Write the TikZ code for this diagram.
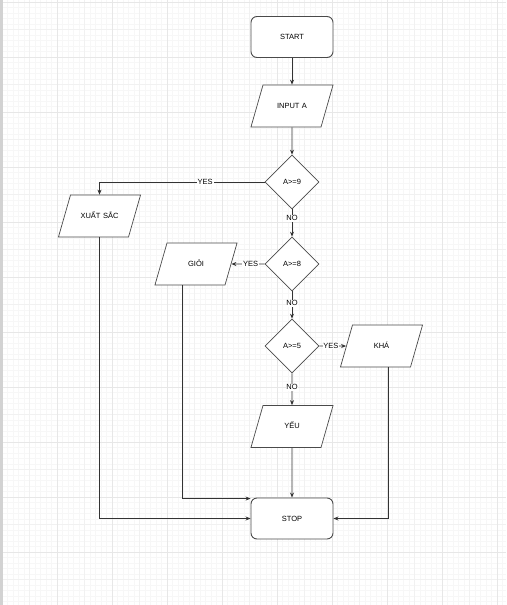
\documentclass[tikz,border=0pt]{standalone}
\usepackage{fontspec}
\setmainfont{Liberation Sans}
\usetikzlibrary{arrows.meta, shapes.geometric, calc}
\definecolor{linie}{HTML}{333333}
\definecolor{rahmen}{HTML}{4A4A4A}
\newcommand{\klein}{\fontsize{7.5}{9}\selectfont}

\begin{document}
\begin{tikzpicture}[x=1pt, y=-1pt,
      endpunkt/.style={draw=rahmen, line width=0.9pt, rounded corners=6pt,
        fill=white, text=black, font=\klein, inner sep=0pt,
        minimum width=82pt, minimum height=41pt},
      eingabe/.style={trapezium, trapezium left angle=74, trapezium right angle=106,
        draw=rahmen, line width=0.7pt, fill=white, text=black, font=\klein,
        align=center, text width=46pt, text height=6pt, text depth=1.5pt,
        inner xsep=6pt, inner ysep=17.25pt},
      frage/.style={diamond, draw=rahmen, line width=0.6pt, fill=white,
        text=black, font=\klein, inner sep=0pt,
        minimum width=54pt, minimum height=54pt},
      pfeil/.style={-{Stealth[length=5pt, width=4pt]}, linie, line width=0.8pt},
      marke/.style={fill=white, inner sep=0.8pt, text=black, font=\klein}]
    % Zeichenfläche mit Raster
    \fill[white] (0,0) rectangle (506,605);
    \useasboundingbox (0,0) rectangle (506,605);
    \foreach \i in {0,...,91} {\draw[gray!6, line width=0.6pt] ({2+5.5*\i},0) -- ({2+5.5*\i},605);}
    \foreach \i in {0,...,109} {\draw[gray!6, line width=0.6pt] (0,{2+5.5*\i}) -- (506,{2+5.5*\i});}
    \foreach \i in {0,...,18} {\draw[gray!11, line width=0.7pt] ({2+27.5*\i},0) -- ({2+27.5*\i},605);}
    \foreach \i in {0,...,21} {\draw[gray!11, line width=0.7pt] (0,{2+27.5*\i}) -- (506,{2+27.5*\i});}
    \foreach \i in {0,...,9} {\draw[gray!19, line width=0.8pt] ({2+55*\i},0) -- ({2+55*\i},605);}
    \foreach \i in {0,...,10} {\draw[gray!19, line width=0.8pt] (0,{2+55*\i}) -- (506,{2+55*\i});}
    \fill[gray!35] (0,0) rectangle (2.5,605);

    \node[endpunkt] (start) at (292,37) {START};
    \node[eingabe] (eingabe) at (292,106) {INPUT A};
    \node[frage] (a9) at (292,182) {A>=9};
    \node[eingabe] (xuatsac) at (99.5,216) {XUẤT SẮC};
    \node[frage] (a8) at (292,264) {A>=8};
    \node[eingabe] (gioi) at (196,264) {GIỎI};
    \node[frage] (a5) at (292,346) {A>=5};
    \node[eingabe] (kha) at (381.5,346) {KHÁ};
    \node[eingabe] (yeu) at (292,426.5) {YẾU};
    \node[endpunkt] (stop) at (292,518.5) {STOP};
    \coordinate (gioiaus) at (182,264);
    \coordinate (khaaus) at (388,346);

    \draw[pfeil] (start) -- (eingabe);
    \draw[pfeil] (eingabe) -- (a9);
    \draw[pfeil] (a9) -| node[marke, pos=0.18] {YES} (xuatsac);
    \draw[pfeil] (a9) -- node[marke, pos=0.32] {NO} (a8);
    \draw[pfeil] (a8) -- node[marke, pos=0.42] {YES} (gioi);
    \draw[pfeil] (a8) -- node[marke, pos=0.44] {NO} (a5);
    \draw[pfeil] (a5) -- node[marke, pos=0.43] {YES} (kha);
    \draw[pfeil] (a5) -- node[marke, pos=0.44] {NO} (yeu);
    \draw[pfeil] (yeu) -- (stop);
    \draw[pfeil] (xuatsac) |- (stop.west);
    \draw[pfeil] (gioiaus |- gioi.south) |- ($(stop.north west)+(0,1)$);
    \draw[pfeil] (khaaus |- kha.south) |- (stop.east);
  \end{tikzpicture}
\end{document}
